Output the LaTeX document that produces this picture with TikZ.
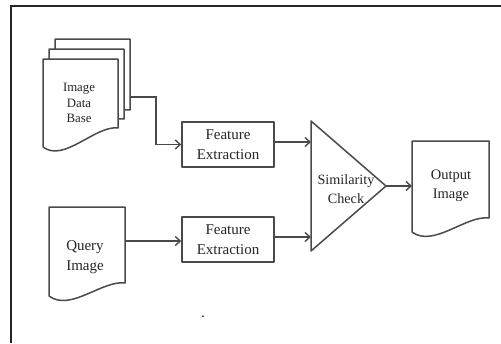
\documentclass[tikz,border=0pt]{standalone}
\usepackage{fontspec}
\setmainfont{Liberation Serif}
\usetikzlibrary{arrows.meta}
\definecolor{linegray}{HTML}{4A4A4A}
\definecolor{textgray}{HTML}{262626}
\tikzset{
  ln/.style={draw=linegray, line width=1.5pt, line join=round},
  conn/.style={draw=linegray, line width=1.4pt, -{Straight Barb[length=5pt,width=9pt]}},
  febox/.style={ln, fill=white, minimum width=92pt, minimum height=45pt,
                align=center, inner sep=0pt, text=textgray,
                font=\fontsize{15}{20}\selectfont},
  doclabel/.style={align=center, inner sep=0pt, text=textgray},
}
% document symbol: left, top, right, bottom-right y, bottom-left y
\newcommand\docsheet[5]{%
  \draw[ln, fill=white] (#1,#2) -- (#3,#2) -- (#3,#4)
    .. controls ({#3-0.3*(#3-#1)},{#4-3}) and ({#1+0.28*(#3-#1)},{#5+16}) .. (#1,#5) -- cycle;}
\begin{document}
\begin{tikzpicture}[x=1pt, y=-1pt]
  \useasboundingbox (0,0) rectangle (501,343);
  % open frame
  \draw[black!85, line width=2pt] (11,343) -- (11,6) -- (501,6);

  % stacked image database
  \docsheet{55}{39}{130}{110}{127}
  \docsheet{49}{49}{124}{119}{137}
  \docsheet{43}{59}{118}{128}{147}
  \node[doclabel, font=\fontsize{12.8}{15.5}\selectfont] (dbtext) at (79,103) {Image\\Data\\Base};
  \coordinate (dbout) at (130,97);
  \coordinate (dbbend) at (156,97);

  % query image
  \docsheet{49}{207}{125}{283}{296}
  \node[doclabel, font=\fontsize{15}{20}\selectfont] (qtext) at (85,257) {Query\\Image};
  \coordinate (qout) at (125,241);

  % feature extraction boxes
  \node[febox] (fe1) at (228,144.5) {Feature\\Extraction};
  \node[febox] (fe2) at (228,239.5) {Feature\\Extraction};

  % similarity check triangle
  \coordinate (tritop) at (311,121);
  \coordinate (triapex) at (386,186);
  \coordinate (tribot) at (311,251);
  \draw[ln, fill=white] (tritop) -- (triapex) -- (tribot) -- cycle;
  \node[doclabel, font=\fontsize{14.2}{19}\selectfont] (simtext) at (346,189.5) {Similarity\\Check};
  \coordinate (simin1) at (311,142);
  \coordinate (simin2) at (311,237);

  % output image
  \docsheet{412}{141}{489}{218}{232}
  \node[doclabel, font=\fontsize{14.5}{19}\selectfont] (otext) at (451,185.5) {Output\\Image};
  \coordinate (outin) at (412,186);

  % stray full stop
  \node[doclabel, anchor=base, font=\fontsize{15}{18}\selectfont] (dot) at (203,317.5) {.};

  % connectors
  \draw[conn] (dbout) -- (dbbend) |- (fe1.west);
  \draw[conn] (qout) -- (qout -| fe2.west);
  \draw[conn] (fe1.east |- simin1) -- (simin1);
  \draw[conn] (fe2.east |- simin2) -- (simin2);
  \draw[conn] (triapex) -- (outin);
\end{tikzpicture}
\end{document}
